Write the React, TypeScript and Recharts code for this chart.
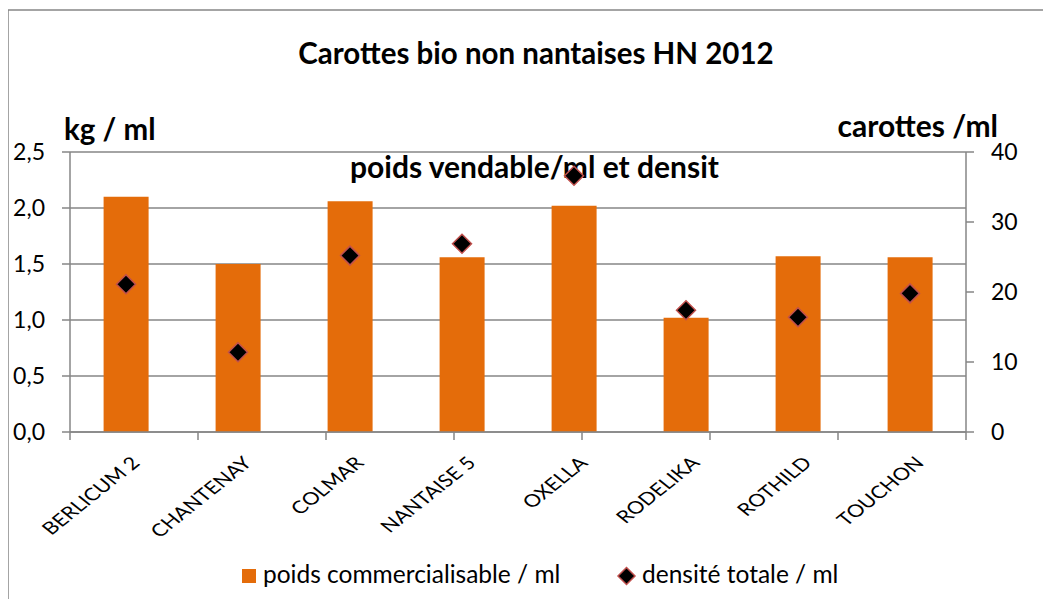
import { ComposedChart, Bar, Scatter, XAxis, YAxis, CartesianGrid } from 'recharts';

const varieties = ['BERLICUM 2', 'CHANTENAY', 'COLMAR', 'NANTAISE 5', 'OXELLA', 'RODELIKA', 'ROTHILD', 'TOUCHON'];
const poidsVendable = [2.1, 1.5, 2.06, 1.56, 2.02, 1.02, 1.57, 1.56];
const densiteTotale = [21.1, 11.4, 25.2, 26.9, 36.6, 17.4, 16.4, 19.8];
const kgTicks = [0, 0.5, 1, 1.5, 2, 2.5];
const densiteTicks = [0, 10, 20, 30, 40];
const boundaryTicks = [0, 1, 2, 3, 4, 5, 6, 7, 8];

const ORANGE = '#E46C0A';
const GREY = '#868686';
const FONT = 'Lato, "Open Sans", sans-serif';

const data = varieties.map((name, i) => ({
  name,
  poids: poidsVendable[i],
  densite: densiteTotale[i],
}));

const Diamond = (props: any) => {
  const { cx, cy } = props;
  if (cx == null || cy == null) return null;
  const r = props.r ?? 9.5;
  return (
    <polygon
      points={`${cx},${cy - r} ${cx + r},${cy} ${cx},${cy + r} ${cx - r},${cy}`}
      fill="#000"
      stroke="#C0504D"
      strokeWidth={1.5}
    />
  );
};

// 45° labels, stretched sideways like in the source picture
const CategoryTick = (props: any) => {
  const { x, y, payload } = props;
  const ax = x + 15;
  const ay = y + 16;
  return (
    <g transform={`translate(${ax}, ${ay}) scale(1.25, 1) rotate(-45)`}>
      <text x={0} y={0} textAnchor="end" fontFamily={FONT} fontSize={17.5} fill="#000">
        {payload.value}
      </text>
    </g>
  );
};

const NoLabel = () => <g />;

export default function App() {
  return (
    <div style={{ position: 'relative', width: 1043, height: 599, margin: '-8px 0 0 -8px', overflow: 'hidden', background: '#fff' }}>
      {/* chart frame, titles and legend behind the plot */}
      <svg width={1043} height={599} style={{ position: 'absolute', left: 0, top: 0 }}>
        <rect x={8} y={10} width={1100} height={700} fill="#fff" stroke={GREY} strokeWidth={1.5} />
        <text x={536} y={64} textAnchor="middle" fontFamily={FONT} fontWeight="bold" fontSize={29.5} fill="#000">
          Carottes bio non nantaises HN 2012
        </text>
        <text x={64} y={140} fontFamily={FONT} fontWeight="bold" fontSize={29.5} fill="#000">
          kg / ml
        </text>
        <text x={998} y={137} textAnchor="end" fontFamily={FONT} fontWeight="bold" fontSize={30} fill="#000">
          carottes /ml
        </text>
        <text x={350} y={178} fontFamily={FONT} fontWeight="bold" fontSize={30} fill="#000">
          poids vendable/ml et densit
        </text>
        <rect x={242} y={569} width={14} height={14} fill={ORANGE} />
        <text x={263} y={583} fontFamily={FONT} fontSize={24.5} fill="#000">
          poids commercialisable / ml
        </text>
        <Diamond cx={626.5} cy={576} r={8.5} />
        <text x={642} y={583} fontFamily={FONT} fontSize={24.5} fill="#000">
          densité totale / ml
        </text>
      </svg>
      <div style={{ position: 'absolute', left: 0, top: 0 }}>
        <ComposedChart
          width={1043}
          height={599}
          data={data}
          margin={{ top: 152, right: 17, bottom: 0, left: 0 }}
          barCategoryGap="30%"
        >
          <CartesianGrid yAxisId="kg" xAxisId="cat" vertical={false} stroke={GREY} strokeWidth={1.5} />
          <XAxis
            xAxisId="bounds"
            type="number"
            domain={[0, 8]}
            ticks={boundaryTicks}
            tick={<NoLabel />}
            tickSize={8}
            height={8}
            stroke={GREY}
            strokeWidth={1.5}
          />
          <XAxis
            xAxisId="cat"
            dataKey="name"
            interval={0}
            axisLine={false}
            tickLine={false}
            tick={<CategoryTick />}
            height={159}
          />
          <YAxis
            yAxisId="kg"
            domain={[0, 2.5]}
            ticks={kgTicks}
            tickFormatter={(v: number) => v.toFixed(1).replace('.', ',')}
            width={70}
            tickSize={8}
            tickMargin={17}
            stroke={GREY}
            strokeWidth={1.5}
            tick={{ fill: '#000', fontSize: 23, fontFamily: FONT }}
          />
          <YAxis
            yAxisId="densite"
            orientation="right"
            domain={[0, 40]}
            ticks={densiteTicks}
            width={60}
            tickSize={8}
            tickMargin={17}
            stroke={GREY}
            strokeWidth={1.5}
            tick={{ fill: '#000', fontSize: 23, fontFamily: FONT, textAnchor: 'start' }}
          />
          <Bar
            xAxisId="cat"
            yAxisId="kg"
            dataKey="poids"
            name="poids commercialisable / ml"
            fill={ORANGE}
            isAnimationActive={false}
          />
          <Scatter
            xAxisId="cat"
            yAxisId="densite"
            dataKey="densite"
            name="densité totale / ml"
            shape={<Diamond />}
            isAnimationActive={false}
          />
        </ComposedChart>
      </div>
    </div>
  );
}
